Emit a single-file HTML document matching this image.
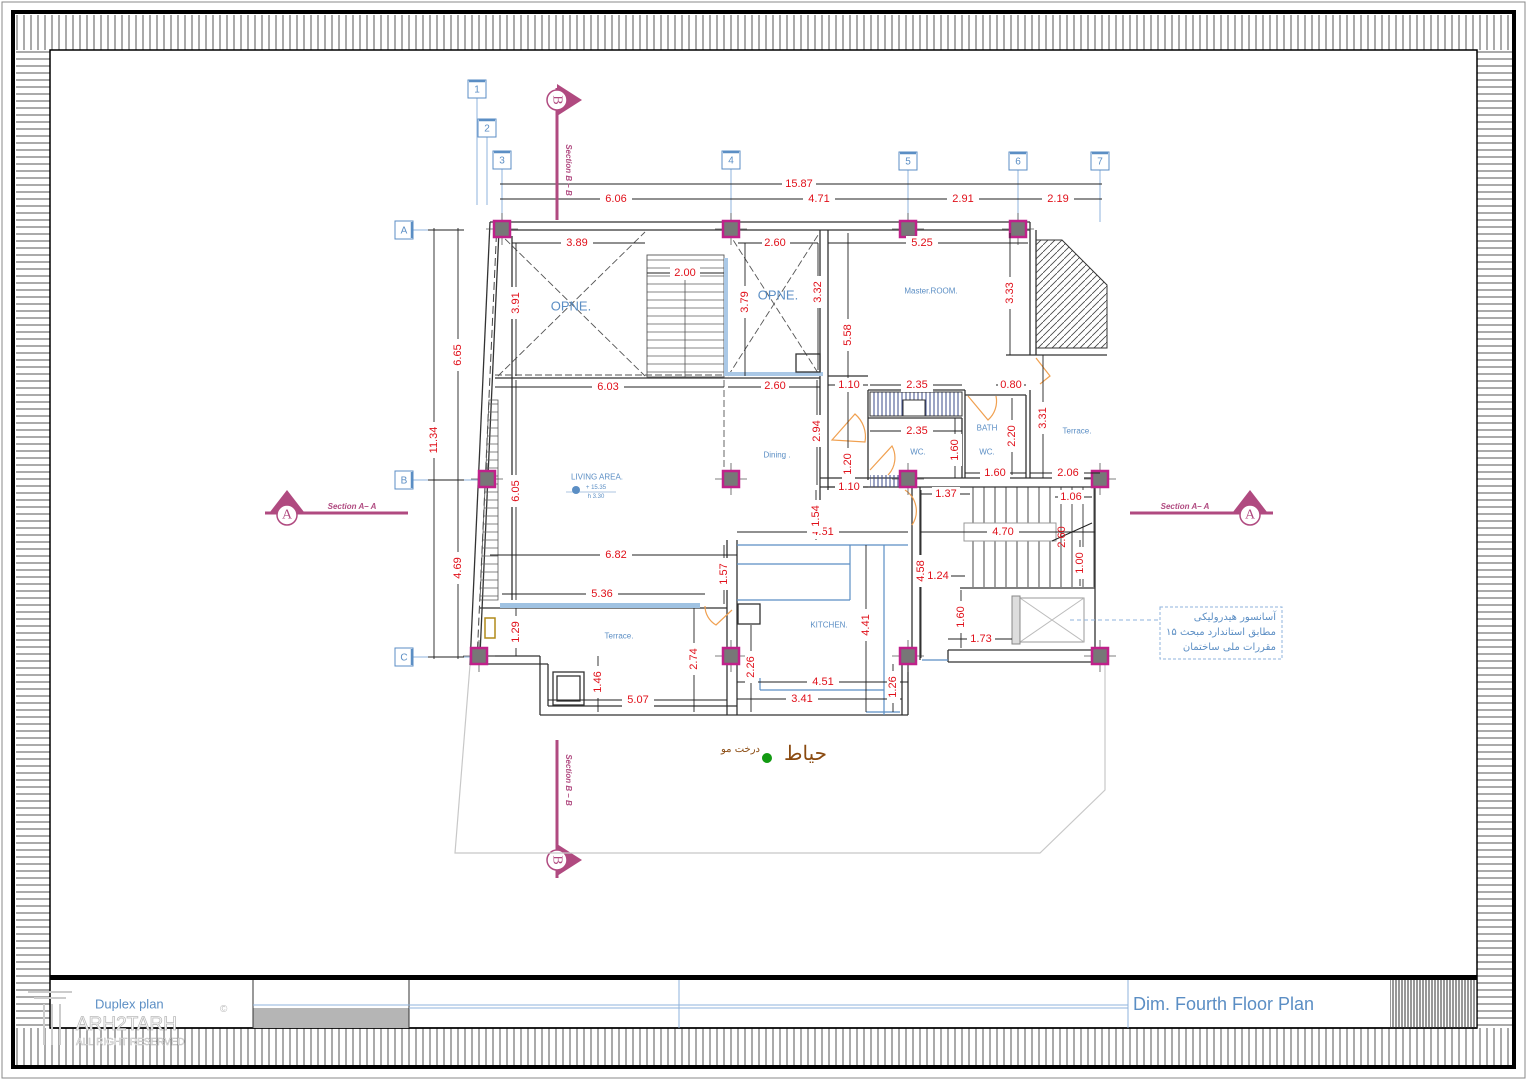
<!DOCTYPE html>
<html><head><meta charset="utf-8"><style>
html,body{margin:0;padding:0;background:#fff}
svg{display:block}
.d{font-family:"Liberation Sans",sans-serif;font-size:11px;fill:#e0101a;text-anchor:middle;dominant-baseline:central}
.b{font-family:"Liberation Sans",sans-serif;fill:#5b8ec4;text-anchor:middle;dominant-baseline:central}
.w{stroke:#333;stroke-width:1.3;fill:none}
.dl{stroke:#222;stroke-width:0.9;fill:none}
.g{fill:#fff;stroke:#5b8ec4;stroke-width:1}
.gl{stroke:#8fb3dc;stroke-width:1}
</style></head><body>
<svg width="1527" height="1080" viewBox="0 0 1527 1080" xmlns="http://www.w3.org/2000/svg">
<defs>
<pattern id="vh" width="7" height="10" patternUnits="userSpaceOnUse"><line x1="3" y1="0" x2="3" y2="10" stroke="#555" stroke-width="1"/></pattern>
<pattern id="hh" width="10" height="7" patternUnits="userSpaceOnUse"><line x1="0" y1="3" x2="10" y2="3" stroke="#555" stroke-width="1"/></pattern>
<pattern id="vd" width="3" height="10" patternUnits="userSpaceOnUse"><line x1="1" y1="0" x2="1" y2="10" stroke="#333" stroke-width="1"/></pattern>
<pattern id="dg" width="7" height="7" patternUnits="userSpaceOnUse"><line x1="0" y1="7" x2="7" y2="0" stroke="#444" stroke-width="0.8"/></pattern>
<pattern id="st" width="11" height="10" patternUnits="userSpaceOnUse"><line x1="5" y1="0" x2="5" y2="10" stroke="#333" stroke-width="0.9"/></pattern>
<pattern id="sh" width="10" height="8" patternUnits="userSpaceOnUse"><line x1="0" y1="4" x2="10" y2="4" stroke="#666" stroke-width="0.8"/></pattern>
<pattern id="bw" width="4" height="10" patternUnits="userSpaceOnUse"><line x1="2" y1="0" x2="2" y2="10" stroke="#3a4a8a" stroke-width="1"/></pattern>
</defs>
<!-- frame -->
<rect x="2" y="2" width="1523" height="1076" fill="none" stroke="#888" stroke-width="1"/>
<rect x="16" y="15" width="1496" height="35" fill="url(#vh)"/>
<rect x="16" y="1028" width="1496" height="37" fill="url(#vh)"/>
<rect x="16" y="50" width="34" height="978" fill="url(#hh)"/>
<rect x="1477" y="50" width="35" height="978" fill="url(#hh)"/>
<rect x="13" y="12" width="1501" height="1055" fill="none" stroke="#000" stroke-width="4"/>
<rect x="50" y="50" width="1427" height="978" fill="#fff" stroke="#000" stroke-width="1.5"/>
<rect x="50" y="975" width="1427" height="5" fill="#000"/>
<!-- title block -->
<line x1="50" y1="1028" x2="1477" y2="1028" stroke="#000" stroke-width="1.5"/>
<rect x="253" y="1008" width="156" height="20" fill="#b5b5b5"/>
<line x1="253" y1="980" x2="253" y2="1028" stroke="#333"/>
<line x1="409" y1="980" x2="409" y2="1028" stroke="#333"/>
<line x1="679" y1="980" x2="679" y2="1028" class="gl"/>
<line x1="1128" y1="980" x2="1128" y2="1028" class="gl"/>
<line x1="253" y1="1005" x2="1128" y2="1005" class="gl"/>
<line x1="409" y1="1008" x2="1128" y2="1008" class="gl"/>
<rect x="1390" y="980" width="87" height="48" fill="url(#vd)"/>
<text x="95" y="1004" class="b" style="font-size:13px;text-anchor:start">Duplex plan</text>
<text x="1133" y="1004" class="b" style="font-size:18px;text-anchor:start">Dim. Fourth Floor Plan</text>
<text x="220" y="1012" style="font-family:'Liberation Sans';font-size:10px;fill:#bbb">©</text>
<g fill="none" stroke="#ccc" stroke-width="2"><path d="M28 992 H72 M34 998 H66 M44 1004 V1045 M52 1004 V1045 M60 1004 V1045"/></g>
<text x="76" y="1030" style="font-family:'Liberation Sans';font-size:19px;fill:#fff;stroke:#bbb;stroke-width:0.8">ARH2TARH</text>
<text x="76" y="1045" style="font-family:'Liberation Sans';font-size:10px;fill:#fff;stroke:#bbb;stroke-width:0.5">ALL RIGHT RESERVED</text>

<!-- grid bubbles -->
<g class="gl">
<line x1="477" y1="98" x2="477" y2="205"/><line x1="487" y1="137" x2="487" y2="205"/>
<line x1="502" y1="169" x2="502" y2="222"/><line x1="731" y1="169" x2="731" y2="222"/>
<line x1="908" y1="169" x2="908" y2="222"/><line x1="1018" y1="169" x2="1018" y2="222"/>
<line x1="1100" y1="169" x2="1100" y2="222"/>
<line x1="413" y1="230" x2="440" y2="230"/><line x1="413" y1="480" x2="480" y2="480"/><line x1="413" y1="657" x2="470" y2="657"/>
</g>
<g>
<rect x="468" y="80" width="18" height="18" class="g"/><text x="477" y="90" class="b" style="font-size:10px">1</text>
<rect x="478" y="119" width="18" height="18" class="g"/><text x="487" y="129" class="b" style="font-size:10px">2</text>
<rect x="493" y="151" width="18" height="18" class="g"/><text x="502" y="161" class="b" style="font-size:10px">3</text>
<rect x="722" y="151" width="18" height="18" class="g"/><text x="731" y="161" class="b" style="font-size:10px">4</text>
<rect x="899" y="152" width="18" height="18" class="g"/><text x="908" y="162" class="b" style="font-size:10px">5</text>
<rect x="1009" y="152" width="18" height="18" class="g"/><text x="1018" y="162" class="b" style="font-size:10px">6</text>
<rect x="1091" y="152" width="18" height="18" class="g"/><text x="1100" y="162" class="b" style="font-size:10px">7</text>
<rect x="395" y="221" width="18" height="18" class="g"/><text x="404" y="231" class="b" style="font-size:10px">A</text>
<rect x="395" y="471" width="18" height="18" class="g"/><text x="404" y="481" class="b" style="font-size:10px">B</text>
<rect x="395" y="648" width="18" height="18" class="g"/><text x="404" y="658" class="b" style="font-size:10px">C</text>
<g stroke="#5b8ec4" stroke-width="2.5" fill="none">
<path d="M469 81 H485"/><path d="M479 120 H495"/><path d="M494 152 H510"/><path d="M723 152 H739"/><path d="M900 153 H916"/><path d="M1010 153 H1026"/><path d="M1092 153 H1108"/>
<path d="M412 222 V238"/><path d="M412 472 V488"/><path d="M412 649 V665"/>
</g>
</g>

<!-- overall dims -->
<g class="dl">
<line x1="500" y1="184" x2="1102" y2="184"/><line x1="500" y1="199" x2="1102" y2="199"/>
<line x1="434" y1="228" x2="434" y2="659"/><line x1="458" y1="228" x2="458" y2="659"/>
<line x1="428" y1="230" x2="464" y2="230"/><line x1="428" y1="480" x2="464" y2="480"/><line x1="428" y1="657" x2="464" y2="657"/>
</g>
<rect x="782" y="177" width="34" height="13" fill="#fff"/><text x="799" y="184" class="d">15.87</text>
<rect x="600" y="193" width="32" height="12" fill="#fff"/><text x="616" y="199" class="d">6.06</text>
<rect x="803" y="193" width="32" height="12" fill="#fff"/><text x="819" y="199" class="d">4.71</text>
<rect x="947" y="193" width="32" height="12" fill="#fff"/><text x="963" y="199" class="d">2.91</text>
<rect x="1042" y="193" width="32" height="12" fill="#fff"/><text x="1058" y="199" class="d">2.19</text>
<rect x="427" y="422" width="14" height="36" fill="#fff"/><text x="434" y="440" class="d" transform="rotate(-90 434 440)">11.34</text>
<rect x="451" y="339" width="14" height="32" fill="#fff"/><text x="458" y="355" class="d" transform="rotate(-90 458 355)">6.65</text>
<rect x="451" y="552" width="14" height="32" fill="#fff"/><text x="458" y="568" class="d" transform="rotate(-90 458 568)">4.69</text>

<!-- section markers -->
<g>
<line x1="557" y1="88" x2="557" y2="220" stroke="#b04a80" stroke-width="3"/>
<polygon points="557,84 582,100 557,116" fill="#b04a80"/>
<circle cx="557" cy="100" r="10" fill="#fff" stroke="#b04a80" stroke-width="1.5"/>
<text x="557" y="100" transform="rotate(90 557 100)" style="font-family:'Liberation Serif';font-size:14px;fill:#b04a80;text-anchor:middle;dominant-baseline:central">B</text>
<text x="566" y="170" transform="rotate(90 566 170)" style="font-family:'Liberation Sans';font-size:8px;font-style:italic;font-weight:bold;fill:#b04a80;text-anchor:middle">Section  B – B</text>
<line x1="557" y1="740" x2="557" y2="878" stroke="#b04a80" stroke-width="3"/>
<polygon points="557,844 582,860 557,876" fill="#b04a80"/>
<circle cx="557" cy="860" r="10" fill="#fff" stroke="#b04a80" stroke-width="1.5"/>
<text x="557" y="860" transform="rotate(90 557 860)" style="font-family:'Liberation Serif';font-size:14px;fill:#b04a80;text-anchor:middle;dominant-baseline:central">B</text>
<text x="566" y="780" transform="rotate(90 566 780)" style="font-family:'Liberation Sans';font-size:8px;font-style:italic;font-weight:bold;fill:#b04a80;text-anchor:middle">Section  B – B</text>
<line x1="265" y1="513" x2="408" y2="513" stroke="#b04a80" stroke-width="3"/>
<polygon points="270,512 287,490 304,512" fill="#b04a80"/>
<circle cx="287" cy="515" r="10" fill="#fff" stroke="#b04a80" stroke-width="1.5"/>
<text x="287" y="515" style="font-family:'Liberation Serif';font-size:14px;fill:#b04a80;text-anchor:middle;dominant-baseline:central">A</text>
<text x="352" y="509" style="font-family:'Liberation Sans';font-size:8px;font-style:italic;font-weight:bold;fill:#b04a80;text-anchor:middle">Section   A– A</text>
<line x1="1130" y1="513" x2="1273" y2="513" stroke="#b04a80" stroke-width="3"/>
<polygon points="1233,512 1250,490 1267,512" fill="#b04a80"/>
<circle cx="1250" cy="515" r="10" fill="#fff" stroke="#b04a80" stroke-width="1.5"/>
<text x="1250" y="515" style="font-family:'Liberation Serif';font-size:14px;fill:#b04a80;text-anchor:middle;dominant-baseline:central">A</text>
<text x="1185" y="509" style="font-family:'Liberation Sans';font-size:8px;font-style:italic;font-weight:bold;fill:#b04a80;text-anchor:middle">Section   A– A</text>
</g>

<!-- site outline -->
<polyline points="470,665 455,853 1040,853 1105,790 1105,665" fill="none" stroke="#c8c8c8" stroke-width="1.2"/>

<!-- building walls -->
<g class="w">
<line x1="490" y1="222" x2="1030" y2="222"/>
<line x1="497" y1="230" x2="1030" y2="230"/>
<line x1="490" y1="222" x2="470" y2="665"/>
<line x1="499" y1="230" x2="480" y2="655"/>
<line x1="512" y1="236" x2="512" y2="600"/>
<line x1="820" y1="230" x2="820" y2="530"/>
<line x1="828" y1="230" x2="828" y2="376"/>
<line x1="1030" y1="222" x2="1030" y2="355"/>
<line x1="1036" y1="230" x2="1036" y2="355"/>
<line x1="1006" y1="355" x2="1036" y2="355"/>
<line x1="1036" y1="355" x2="1107" y2="355"/>
<line x1="495" y1="378" x2="726" y2="378"/>
<line x1="726" y1="378" x2="820" y2="378"/>
<line x1="828" y1="376" x2="868" y2="376"/>
<line x1="828" y1="376" x2="828" y2="490"/>
<line x1="868" y1="390" x2="965" y2="390"/>
<line x1="868" y1="390" x2="868" y2="480"/>
<line x1="868" y1="418" x2="962" y2="418"/>
<line x1="962" y1="418" x2="962" y2="478"/>
<line x1="965" y1="390" x2="965" y2="478"/>
<line x1="965" y1="395" x2="1026" y2="395"/>
<line x1="1026" y1="395" x2="1026" y2="478"/>
<line x1="1030" y1="390" x2="1030" y2="478"/>
<line x1="820" y1="487" x2="1100" y2="487"/>
<line x1="820" y1="478" x2="1100" y2="478"/>
<line x1="912" y1="487" x2="912" y2="663"/>
<line x1="920" y1="487" x2="920" y2="660"/>
<line x1="960" y1="588" x2="1095" y2="588"/>
<line x1="948" y1="650" x2="1100" y2="650"/>
<line x1="948" y1="662" x2="1100" y2="662"/>
<line x1="948" y1="650" x2="948" y2="662"/>
<line x1="1095" y1="487" x2="1095" y2="650"/>
<line x1="737" y1="540" x2="737" y2="715"/>
<line x1="727" y1="540" x2="727" y2="715"/>
<line x1="540" y1="656" x2="540" y2="715"/>
<line x1="548" y1="664" x2="548" y2="706"/>
<line x1="479" y1="656" x2="540" y2="656"/>
<line x1="479" y1="664" x2="548" y2="664"/>
<line x1="540" y1="715" x2="908" y2="715"/>
<line x1="548" y1="706" x2="737" y2="706"/>
<line x1="902" y1="660" x2="902" y2="715"/>
<line x1="908" y1="660" x2="908" y2="715"/>
<line x1="500" y1="608" x2="727" y2="608"/>
<line x1="480" y1="608" x2="500" y2="608"/>
<rect x="553" y="672" width="31" height="33"/>
<rect x="557" y="676" width="23" height="25"/>
</g>
<line x1="497" y1="222" x2="477" y2="660" stroke="#444" stroke-dasharray="8,4"/>
<polygon points="489,400 498,400 498,600 480,600" fill="url(#sh)" stroke="#555" stroke-width="0.8"/>
<rect x="485" y="618" width="10" height="20" fill="none" stroke="#b08a1a" stroke-width="1.5"/>
<!-- open areas -->
<g stroke="#555" stroke-width="0.9" stroke-dasharray="7,3" fill="none">
<line x1="498" y1="376" x2="645" y2="232"/><line x1="498" y1="232" x2="645" y2="376"/>
<line x1="728" y1="376" x2="820" y2="232"/><line x1="728" y1="232" x2="820" y2="376"/>
<line x1="495" y1="375" x2="726" y2="375"/>
<line x1="724" y1="380" x2="724" y2="470"/>
</g>
<rect x="647" y="255" width="77" height="122" fill="url(#sh)" stroke="#555" stroke-width="0.9"/>
<line x1="685" y1="270" x2="685" y2="377" stroke="#555" stroke-width="0.8"/>
<rect x="724" y="258" width="4" height="118" fill="#aac8e6"/>
<rect x="728" y="372" width="95" height="4" fill="#aac8e6"/>
<rect x="796" y="354" width="24" height="18" fill="none" stroke="#333" stroke-width="1.3"/>
<polygon points="1036,240 1062,240 1107,285 1107,348 1036,348" fill="url(#dg)" stroke="#333" stroke-width="1"/>
<rect x="870" y="392" width="92" height="24" fill="url(#bw)" stroke="#333"/>
<rect x="903" y="400" width="22" height="16" fill="#fff" stroke="#333"/>
<rect x="870" y="475" width="30" height="12" fill="url(#bw)"/>
<!-- stairs right -->
<rect x="965" y="487" width="130" height="100" fill="url(#st)"/>
<rect x="964" y="523" width="92" height="18" fill="#fff" stroke="#999"/>
<line x1="1052" y1="541" x2="1092" y2="523" stroke="#222"/>
<!-- elevator -->
<rect x="1020" y="598" width="64" height="44" fill="none" stroke="#999"/>
<line x1="1020" y1="598" x2="1084" y2="642" stroke="#bbb"/><line x1="1020" y1="642" x2="1084" y2="598" stroke="#bbb"/>
<rect x="1012" y="596" width="8" height="48" fill="#ddd" stroke="#888"/>
<!-- kitchen blue -->
<g stroke="#5b8ec4" stroke-width="1.2" fill="none">
<line x1="737" y1="545" x2="908" y2="545"/><line x1="737" y1="564" x2="850" y2="564"/>
<line x1="850" y1="545" x2="850" y2="600"/><line x1="737" y1="600" x2="850" y2="600"/>
<line x1="884" y1="545" x2="884" y2="715"/>
<line x1="760" y1="678" x2="760" y2="690"/><line x1="760" y1="690" x2="884" y2="690"/>
<line x1="866" y1="712" x2="900" y2="712"/>
<line x1="922" y1="660" x2="948" y2="660"/>
</g>
<rect x="500" y="603" width="200" height="5" fill="#9fc2e2"/>
<rect x="738" y="604" width="22" height="20" fill="none" stroke="#333" stroke-width="1.3"/>
<!-- doors -->
<g stroke="#f0a050" stroke-width="1.2" fill="none">
<path d="M705 606 A22 22 0 0 0 716 625 L732 610"/>
<path d="M832 440 L855 414 A30 30 0 0 1 865 442 Z"/>
<path d="M870 470 L892 446 A25 25 0 0 1 888 475"/>
<path d="M905 490 A25 25 0 0 1 912 525"/>
<path d="M968 396 L988 420 A25 25 0 0 0 996 396"/>
<path d="M1036 358 L1050 376 L1040 384"/>
</g>
<!-- columns -->
<g stroke="#555" stroke-width="0.8">
<path d="M502 213 V245 M486 229 H518 M731 213 V245 M715 229 H747 M908 213 V245 M892 229 H924 M1018 213 V245 M1002 229 H1034"/>
<path d="M487 463 V495 M471 479 H503 M731 463 V495 M715 479 H747 M908 463 V495 M892 479 H924 M1100 463 V495 M1084 479 H1116"/>
<path d="M479 640 V672 M463 656 H495 M731 640 V672 M715 656 H747 M908 640 V672 M892 656 H924 M1100 640 V672 M1084 656 H1116"/>
</g>
<g fill="#777" stroke="#c0208a" stroke-width="2.5">
<rect x="494" y="221" width="16" height="16"/><rect x="723" y="221" width="16" height="16"/>
<rect x="900" y="221" width="16" height="16"/><rect x="1010" y="221" width="16" height="16"/>
<rect x="479" y="471" width="16" height="16"/><rect x="723" y="471" width="16" height="16"/>
<rect x="900" y="471" width="16" height="16"/><rect x="1092" y="471" width="16" height="16"/>
<rect x="471" y="648" width="16" height="16"/><rect x="723" y="648" width="16" height="16"/>
<rect x="900" y="648" width="16" height="16"/><rect x="1092" y="648" width="16" height="16"/>
</g>
<!-- interior dim lines -->
<g class="dl">
<line x1="512" y1="243" x2="645" y2="243"/><line x1="738" y1="243" x2="818" y2="243"/><line x1="828" y1="243" x2="1028" y2="243"/>
<line x1="647" y1="273" x2="724" y2="273"/>
<line x1="516" y1="243" x2="516" y2="376"/><line x1="745" y1="243" x2="745" y2="376"/><line x1="818" y1="243" x2="818" y2="370"/>
<line x1="848" y1="233" x2="848" y2="478"/><line x1="1010" y1="233" x2="1010" y2="355"/>
<line x1="495" y1="387" x2="724" y2="387"/><line x1="728" y1="387" x2="820" y2="387"/>
<line x1="828" y1="385" x2="868" y2="385"/><line x1="870" y1="385" x2="962" y2="385"/><line x1="996" y1="385" x2="1026" y2="385"/>
<line x1="870" y1="431" x2="962" y2="431"/><line x1="817" y1="380" x2="817" y2="485"/>
<line x1="955" y1="418" x2="955" y2="478"/><line x1="1012" y1="398" x2="1012" y2="475"/><line x1="1043" y1="355" x2="1043" y2="478"/>
<line x1="965" y1="473" x2="1026" y2="473"/><line x1="1030" y1="473" x2="1100" y2="473"/>
<line x1="828" y1="487" x2="868" y2="487"/><line x1="921" y1="494" x2="970" y2="494"/><line x1="1055" y1="497" x2="1092" y2="497"/>
<line x1="516" y1="380" x2="516" y2="600"/><line x1="920" y1="532" x2="1095" y2="532"/>
<line x1="816" y1="490" x2="816" y2="540"/><line x1="737" y1="532" x2="908" y2="532"/>
<line x1="490" y1="555" x2="737" y2="555"/><line x1="724" y1="545" x2="724" y2="604"/>
<line x1="921" y1="490" x2="921" y2="658"/><line x1="924" y1="576" x2="965" y2="576"/>
<line x1="1080" y1="540" x2="1080" y2="586"/><line x1="502" y1="594" x2="705" y2="594"/>
<line x1="961" y1="590" x2="961" y2="648"/><line x1="516" y1="608" x2="516" y2="656"/>
<line x1="694" y1="608" x2="694" y2="712"/><line x1="866" y1="545" x2="866" y2="712"/>
<line x1="948" y1="639" x2="1012" y2="639"/><line x1="598" y1="656" x2="598" y2="712"/>
<line x1="751" y1="625" x2="751" y2="712"/><line x1="737" y1="682" x2="908" y2="682"/>
<line x1="893" y1="664" x2="893" y2="712"/><line x1="548" y1="700" x2="727" y2="700"/><line x1="737" y1="699" x2="902" y2="699"/>
</g>
<!-- dim labels -->
<g>
<g fill="#fff">
<rect x="561" y="236" width="32" height="14"/><rect x="762" y="236" width="28" height="14"/><rect x="906" y="236" width="32" height="14"/>
<rect x="670" y="266" width="30" height="14"/><rect x="592" y="380" width="32" height="14"/><rect x="761" y="380" width="28" height="14"/>
<rect x="835" y="378" width="28" height="14"/><rect x="901" y="378" width="32" height="14"/><rect x="998" y="378" width="26" height="14"/>
<rect x="901" y="424" width="32" height="14"/><rect x="980" y="466" width="30" height="14"/><rect x="1052" y="466" width="32" height="14"/>
<rect x="835" y="480" width="28" height="14"/><rect x="932" y="487" width="28" height="14"/><rect x="1058" y="490" width="26" height="14"/>
<rect x="987" y="525" width="32" height="14"/><rect x="807" y="525" width="32" height="14"/><rect x="600" y="548" width="32" height="14"/>
<rect x="925" y="569" width="26" height="14"/><rect x="586" y="587" width="32" height="14"/><rect x="967" y="632" width="28" height="14"/>
<rect x="807" y="675" width="32" height="14"/><rect x="622" y="693" width="32" height="14"/><rect x="786" y="692" width="32" height="14"/>
</g>
<text x="577" y="243" class="d">3.89</text><text x="775" y="243" class="d">2.60</text><text x="922" y="243" class="d">5.25</text>
<text x="685" y="273" class="d">2.00</text><text x="608" y="387" class="d">6.03</text><text x="775" y="386" class="d">2.60</text>
<text x="849" y="385" class="d">1.10</text><text x="917" y="385" class="d">2.35</text><text x="1011" y="385" class="d">0.80</text>
<text x="917" y="431" class="d">2.35</text><text x="995" y="473" class="d">1.60</text><text x="1068" y="473" class="d">2.06</text>
<text x="849" y="487" class="d">1.10</text><text x="946" y="494" class="d">1.37</text><text x="1071" y="497" class="d">1.06</text>
<text x="1003" y="532" class="d">4.70</text><text x="823" y="532" class="d">4.51</text><text x="616" y="555" class="d">6.82</text>
<text x="938" y="576" class="d">1.24</text><text x="602" y="594" class="d">5.36</text><text x="981" y="639" class="d">1.73</text>
<text x="823" y="682" class="d">4.51</text><text x="638" y="700" class="d">5.07</text><text x="802" y="699" class="d">3.41</text>
<g>
<rect x="510" y="287" width="13" height="32" fill="#fff"/><text x="516" y="303" class="d" transform="rotate(-90 516 303)">3.91</text>
<rect x="739" y="286" width="13" height="32" fill="#fff"/><text x="745" y="302" class="d" transform="rotate(-90 745 302)">3.79</text>
<rect x="812" y="276" width="13" height="32" fill="#fff"/><text x="818" y="292" class="d" transform="rotate(-90 818 292)">3.32</text>
<rect x="842" y="319" width="13" height="32" fill="#fff"/><text x="848" y="335" class="d" transform="rotate(-90 848 335)">5.58</text>
<rect x="1004" y="277" width="13" height="32" fill="#fff"/><text x="1010" y="293" class="d" transform="rotate(-90 1010 293)">3.33</text>
<rect x="811" y="415" width="13" height="32" fill="#fff"/><text x="817" y="431" class="d" transform="rotate(-90 817 431)">2.94</text>
<rect x="842" y="448" width="13" height="32" fill="#fff"/><text x="848" y="464" class="d" transform="rotate(-90 848 464)">1.20</text>
<rect x="949" y="434" width="13" height="32" fill="#fff"/><text x="955" y="450" class="d" transform="rotate(-90 955 450)">1.60</text>
<rect x="1006" y="420" width="13" height="32" fill="#fff"/><text x="1012" y="436" class="d" transform="rotate(-90 1012 436)">2.20</text>
<rect x="1037" y="402" width="13" height="32" fill="#fff"/><text x="1043" y="418" class="d" transform="rotate(-90 1043 418)">3.31</text>
<rect x="510" y="475" width="13" height="32" fill="#fff"/><text x="516" y="491" class="d" transform="rotate(-90 516 491)">6.05</text>
<text x="1062" y="537" class="d" transform="rotate(-90 1062 537)">2.60</text>
<rect x="810" y="500" width="13" height="32" fill="#fff"/><text x="816" y="516" class="d" transform="rotate(-90 816 516)">1.54</text>
<rect x="718" y="558" width="13" height="32" fill="#fff"/><text x="724" y="574" class="d" transform="rotate(-90 724 574)">1.57</text>
<rect x="915" y="555" width="13" height="32" fill="#fff"/><text x="921" y="571" class="d" transform="rotate(-90 921 571)">4.58</text>
<rect x="1074" y="547" width="13" height="32" fill="#fff"/><text x="1080" y="563" class="d" transform="rotate(-90 1080 563)">1.00</text>
<rect x="955" y="601" width="13" height="32" fill="#fff"/><text x="961" y="617" class="d" transform="rotate(-90 961 617)">1.60</text>
<rect x="510" y="616" width="13" height="32" fill="#fff"/><text x="516" y="632" class="d" transform="rotate(-90 516 632)">1.29</text>
<rect x="688" y="643" width="13" height="32" fill="#fff"/><text x="694" y="659" class="d" transform="rotate(-90 694 659)">2.74</text>
<rect x="860" y="609" width="13" height="32" fill="#fff"/><text x="866" y="625" class="d" transform="rotate(-90 866 625)">4.41</text>
<rect x="592" y="666" width="13" height="32" fill="#fff"/><text x="598" y="682" class="d" transform="rotate(-90 598 682)">1.46</text>
<rect x="745" y="651" width="13" height="32" fill="#fff"/><text x="751" y="667" class="d" transform="rotate(-90 751 667)">2.26</text>
<rect x="887" y="671" width="13" height="32" fill="#fff"/><text x="893" y="687" class="d" transform="rotate(-90 893 687)">1.26</text>
</g>
</g>
<!-- room labels -->
<text x="571" y="306" class="b" style="font-size:13px">OPNE.</text>
<text x="778" y="295" class="b" style="font-size:13px">OPNE.</text>
<text x="931" y="291" class="b" style="font-size:8px">Master.ROOM.</text>
<text x="987" y="428" class="b" style="font-size:8px">BATH</text>
<text x="918" y="452" class="b" style="font-size:8px">WC.</text>
<text x="987" y="452" class="b" style="font-size:8px">WC.</text>
<text x="1077" y="431" class="b" style="font-size:8px">Terrace.</text>
<text x="777" y="455" class="b" style="font-size:8px">Dining .</text>
<text x="597" y="477" class="b" style="font-size:8px">LIVING AREA.</text>
<circle cx="576" cy="490" r="4" fill="#5b8ec4"/>
<text x="596" y="488" class="b" style="font-size:6px">+ 15.35</text>
<line x1="566" y1="492" x2="616" y2="492" stroke="#5b8ec4" stroke-width="0.6"/>
<text x="596" y="497" class="b" style="font-size:6px">h 3.30</text>
<text x="619" y="636" class="b" style="font-size:8px">Terrace.</text>
<text x="829" y="625" class="b" style="font-size:8px">KITCHEN.</text>
<!-- elevator note -->
<line x1="1070" y1="620" x2="1160" y2="620" stroke="#8fb3dc" stroke-dasharray="4,3"/>
<rect x="1160" y="607" width="122" height="52" fill="none" stroke="#8fb3dc" stroke-dasharray="3,2"/>
<text x="1276" y="620" direction="rtl" style="font-family:'DejaVu Sans',sans-serif;font-size:10px;fill:#5b8ec4;text-anchor:start">آسانسور هیدرولیکی</text>
<text x="1276" y="635" direction="rtl" style="font-family:'DejaVu Sans',sans-serif;font-size:10px;fill:#5b8ec4;text-anchor:start">مطابق استاندارد مبحث ۱۵</text>
<text x="1276" y="650" direction="rtl" style="font-family:'DejaVu Sans',sans-serif;font-size:10px;fill:#5b8ec4;text-anchor:start">مقررات ملی ساختمان</text>
<!-- yard -->
<circle cx="767" cy="758" r="5" fill="#129a12"/>
<text x="827" y="760" direction="rtl" style="font-family:'DejaVu Serif',serif;font-size:20px;fill:#8a4a10;text-anchor:start">حیاط</text>
<text x="760" y="752" direction="rtl" style="font-family:'DejaVu Serif',serif;font-size:10px;fill:#8a4a10;text-anchor:start">درخت مو</text>
</svg>
</body></html>
